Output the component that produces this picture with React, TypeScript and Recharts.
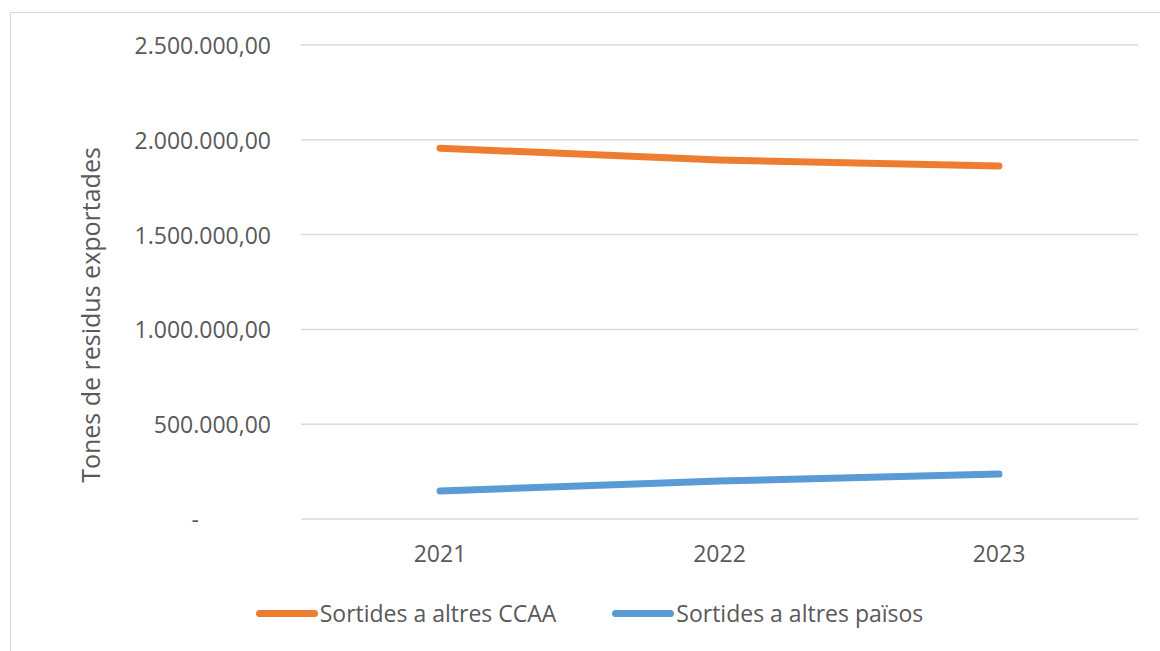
import React from "react";
import { LineChart, Line, XAxis, YAxis, CartesianGrid, Legend, Label } from "recharts";

const years = ["2021", "2022", "2023"];
const ccaa = [1956000, 1893000, 1862000];
const paisos = [148000, 200000, 237000];
const yTicks = [0, 500000, 1000000, 1500000, 2000000, 2500000];
const seriesNames = ["Sortides a altres CCAA", "Sortides a altres països"];
const colors = ["#ED7D31", "#5B9BD5"];

const data = years.map((y, i) => ({ year: y, ccaa: ccaa[i], paisos: paisos[i] }));

const FONT = "'Open Sans', sans-serif";
const TXT = "#595959";

function fmt(v: number): string {
  if (v === 0) return "-";
  const s = Math.round(v).toString();
  const parts: string[] = [];
  for (let i = s.length; i > 0; i -= 3) parts.unshift(s.slice(Math.max(0, i - 3), i));
  return parts.join(".") + ",00";
}

const YTick = (props: any) => {
  const { x, y, payload } = props;
  const v = payload.value as number;
  return (
    <text x={v === 0 ? x - 72 : x} y={y} textAnchor="end" dominantBaseline="central"
      fill={TXT} fontFamily={FONT} fontSize={23}>
      {fmt(v)}
    </text>
  );
};

const XTick = (props: any) => {
  const { x, y, payload } = props;
  return (
    <text x={x} y={y} textAnchor="middle" dominantBaseline="central"
      fill={TXT} fontFamily={FONT} fontSize={23}>
      {payload.value}
    </text>
  );
};

const LegendContent = (props: any) => {
  const { payload } = props;
  return (
    <div style={{ display: "flex", justifyContent: "center", alignItems: "center", height: 40, paddingLeft: 30 }}>
      {(payload || []).map((p: any, i: number) => (
        <div key={i} style={{ display: "flex", alignItems: "center", marginRight: i === 0 ? 56 : 0 }}>
          <div style={{ width: 62, height: 7, borderRadius: 4, background: p.color, marginRight: 2 }} />
          <span style={{ fontFamily: FONT, fontSize: 23, color: TXT }}>{p.value}</span>
        </div>
      ))}
    </div>
  );
};

export default function App() {
  return (
    <div style={{ position: "absolute", left: 10, top: 12, width: 1150, height: 639,
      borderLeft: "1px solid #d9d9d9", borderTop: "1px solid #d9d9d9", background: "#fff" }}>
      <LineChart width={1149} height={638} data={data}
        margin={{ top: 32, right: 22, left: 0, bottom: 18 }}>
        <CartesianGrid vertical={false} stroke="#d9d9d9" strokeWidth={1.5} />
        <XAxis dataKey="year" axisLine={false} tickLine={false} tickSize={0} tickMargin={34}
          height={74} padding={{ left: 139, right: 139 }} tick={<XTick />} />
        <YAxis domain={[0, 2500000]} ticks={yTicks} axisLine={false} tickLine={false}
          tickSize={0} tickMargin={30} width={290} tick={<YTick />}>
          <Label content={() => (
            <text x={79} y={302} transform="rotate(-90, 79, 302)" textAnchor="middle"
              dominantBaseline="central" fill={TXT} fontFamily={FONT} fontSize={25}>
              Tones de residus exportades
            </text>
          )} />
        </YAxis>
        <Legend verticalAlign="bottom" height={40} content={<LegendContent />} />
        <Line dataKey="ccaa" name={seriesNames[0]} stroke={colors[0]} strokeWidth={7}
          strokeLinecap="round" dot={false} activeDot={false} isAnimationActive={false} />
        <Line dataKey="paisos" name={seriesNames[1]} stroke={colors[1]} strokeWidth={7}
          strokeLinecap="round" dot={false} activeDot={false} isAnimationActive={false} />
      </LineChart>
    </div>
  );
}
